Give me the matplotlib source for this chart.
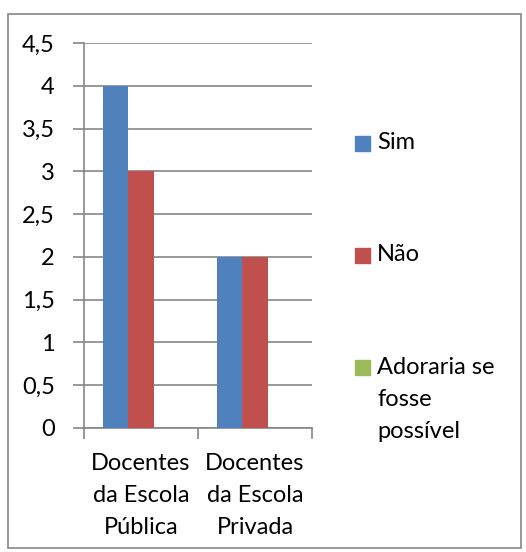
import matplotlib
matplotlib.use('Agg')
import numpy as np
import matplotlib.pyplot as plt
from matplotlib.patches import Rectangle

# data
categories = ['Docentes\nda Escola\nPública', 'Docentes\nda Escola\nPrivada']
series_names = ['Sim', 'Não', 'Adoraria se\nfosse\npossível']
sim = [4, 2]
nao = [3, 2]
adoraria = [0, 0]
yticks = [0, 0.5, 1, 1.5, 2, 2.5, 3, 3.5, 4, 4.5]
colors = ['#4F81BD', '#C0504D', '#9BBB59']

plt.rcParams['font.family'] = ['Lato', 'DejaVu Sans']
grey = '#868686'
fs = 17
lsp = 1.65

W, H = 526, 552
fig = plt.figure(figsize=(W / 100, H / 100), dpi=100)
ax = fig.add_axes([84 / W, 1 - 428 / H, (312 - 84) / W, (428 - 43) / H])

# outer chart border
fig.patches.append(Rectangle((8 / W, 1 - 548 / H), (521 - 8) / W, (548 - 14) / H,
                             transform=fig.transFigure, fill=False,
                             edgecolor=grey, linewidth=1.2))

x = np.arange(len(categories))
w = 1 / 4.5
for i, vals in enumerate([sim, nao, adoraria]):
    ax.bar(x + (i - 1) * w, vals, width=w, color=colors[i], zorder=3)

ax.set_xlim(-0.5, len(categories) - 0.5)
ax.set_ylim(0, 4.5)
ax.set_yticks(yticks)
ax.set_yticklabels([('%g' % v).replace('.', ',') for v in yticks], fontsize=fs)
ax.yaxis.grid(True, color=grey, linewidth=1.2, zorder=0)
ax.tick_params(axis='y', length=8, width=1.2, color=grey, pad=13)

# category boundaries as major ticks, labels centred with minor ticks
ax.set_xticks([-0.5, 0.5, 1.5])
ax.set_xticklabels([])
ax.set_xticks(x, minor=True)
ax.set_xticklabels(categories, minor=True, fontsize=fs, linespacing=lsp)
ax.tick_params(axis='x', which='major', length=8, width=1.2, color=grey)
ax.tick_params(axis='x', which='minor', length=0, pad=18)

for s in ['top', 'right']:
    ax.spines[s].set_visible(False)
for s in ['left', 'bottom']:
    ax.spines[s].set_color(grey)
    ax.spines[s].set_linewidth(1.2)

# legend drawn by hand to keep Excel-like spacing
legend_y = [143, 255, 367]
for name, c, yy in zip(series_names, colors, legend_y):
    fig.patches.append(Rectangle((355 / W, 1 - (yy + 7.5) / H), 15 / W, 15 / H,
                                 transform=fig.transFigure, color=c))
    if '\n' in name:
        fig.text(377 / W, 1 - (yy - 10) / H, name, fontsize=fs, va='top',
                 ha='left', linespacing=lsp)
    else:
        fig.text(377 / W, 1 - yy / H, name, fontsize=fs, va='center', ha='left')

fig.savefig('out.png', dpi=100)
